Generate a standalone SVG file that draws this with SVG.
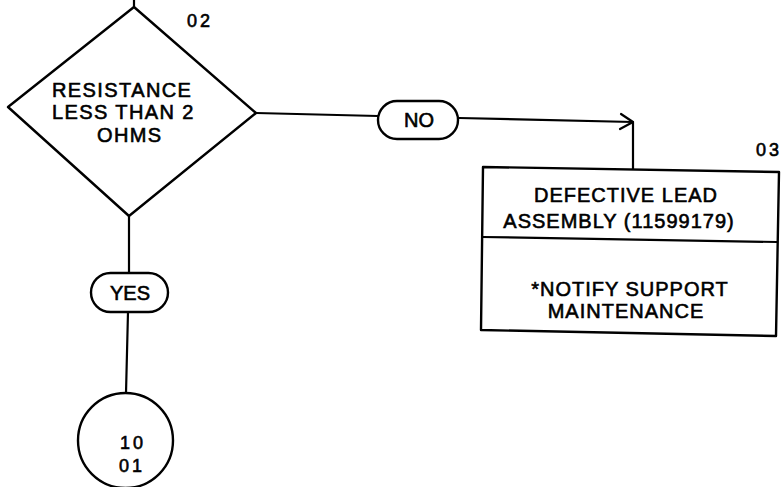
<svg xmlns="http://www.w3.org/2000/svg" width="783" height="487" viewBox="0 0 783 487">
<style>
  .ln { fill: none; stroke: #000; stroke-width: 2.2; stroke-linecap: round; stroke-linejoin: round; }
  .shape { fill: #fff; stroke: #000; stroke-width: 2.4; stroke-linejoin: round; }
  text { font-family: "Liberation Sans", Arial, sans-serif; fill: #000; stroke: #000; stroke-width: 0.6; }
  .big { font-size: 20px; letter-spacing: 1.4px; }
  .box { font-size: 20px; letter-spacing: 1px; text-anchor: middle; }
  .lbl { font-size: 20px; text-anchor: middle; }
  .num { font-size: 18px; letter-spacing: 3px; }
</style>
<rect width="783" height="487" fill="#fff"/>
<g id="connectors">
  <line class="ln" x1="134" y1="0" x2="134" y2="7"/>
  <line class="ln" x1="256" y1="113" x2="378" y2="116"/>
  <polyline class="ln" points="459,118 633,122 633,169"/>
  <polyline class="ln" points="621,114 633,122 620,129"/>
  <line class="ln" x1="129" y1="216" x2="129" y2="273"/>
  <line class="ln" x1="128" y1="312" x2="126" y2="393"/>
</g>
<g id="n02">
  <polygon class="shape" points="134,7 256,113 129,216 8,107"/>
  <text class="big" x="52" y="97">RESISTANCE</text>
  <text class="big" x="52" y="119">LESS THAN 2</text>
  <text class="big" x="97" y="142">OHMS</text>
  <text class="num" x="187" y="27">02</text>
</g>
<g id="no">
  <rect class="shape" x="378" y="101" width="80" height="38" rx="19"/>
  <text class="lbl" x="419" y="127">NO</text>
</g>
<g id="n03">
  <polygon class="shape" points="483,167 779,172 776,336 481,330"/>
  <line class="ln" x1="482" y1="237" x2="777" y2="242"/>
  <text class="box" x="626" y="202">DEFECTIVE LEAD</text>
  <text class="box" x="619" y="228">ASSEMBLY (11599179)</text>
  <text class="box" x="630" y="296">*NOTIFY SUPPORT</text>
  <text class="box" x="626" y="318">MAINTENANCE</text>
  <text class="num" x="756" y="156">03</text>
</g>
<g id="yes">
  <rect class="shape" x="91" y="273" width="77" height="39" rx="19.5"/>
  <text class="lbl" x="130" y="300">YES</text>
</g>
<g id="n1001">
  <circle class="shape" cx="125.5" cy="440.5" r="47.5"/>
  <text class="num" x="120" y="449">10</text>
  <text class="num" x="119" y="472">01</text>
</g>
</svg>
